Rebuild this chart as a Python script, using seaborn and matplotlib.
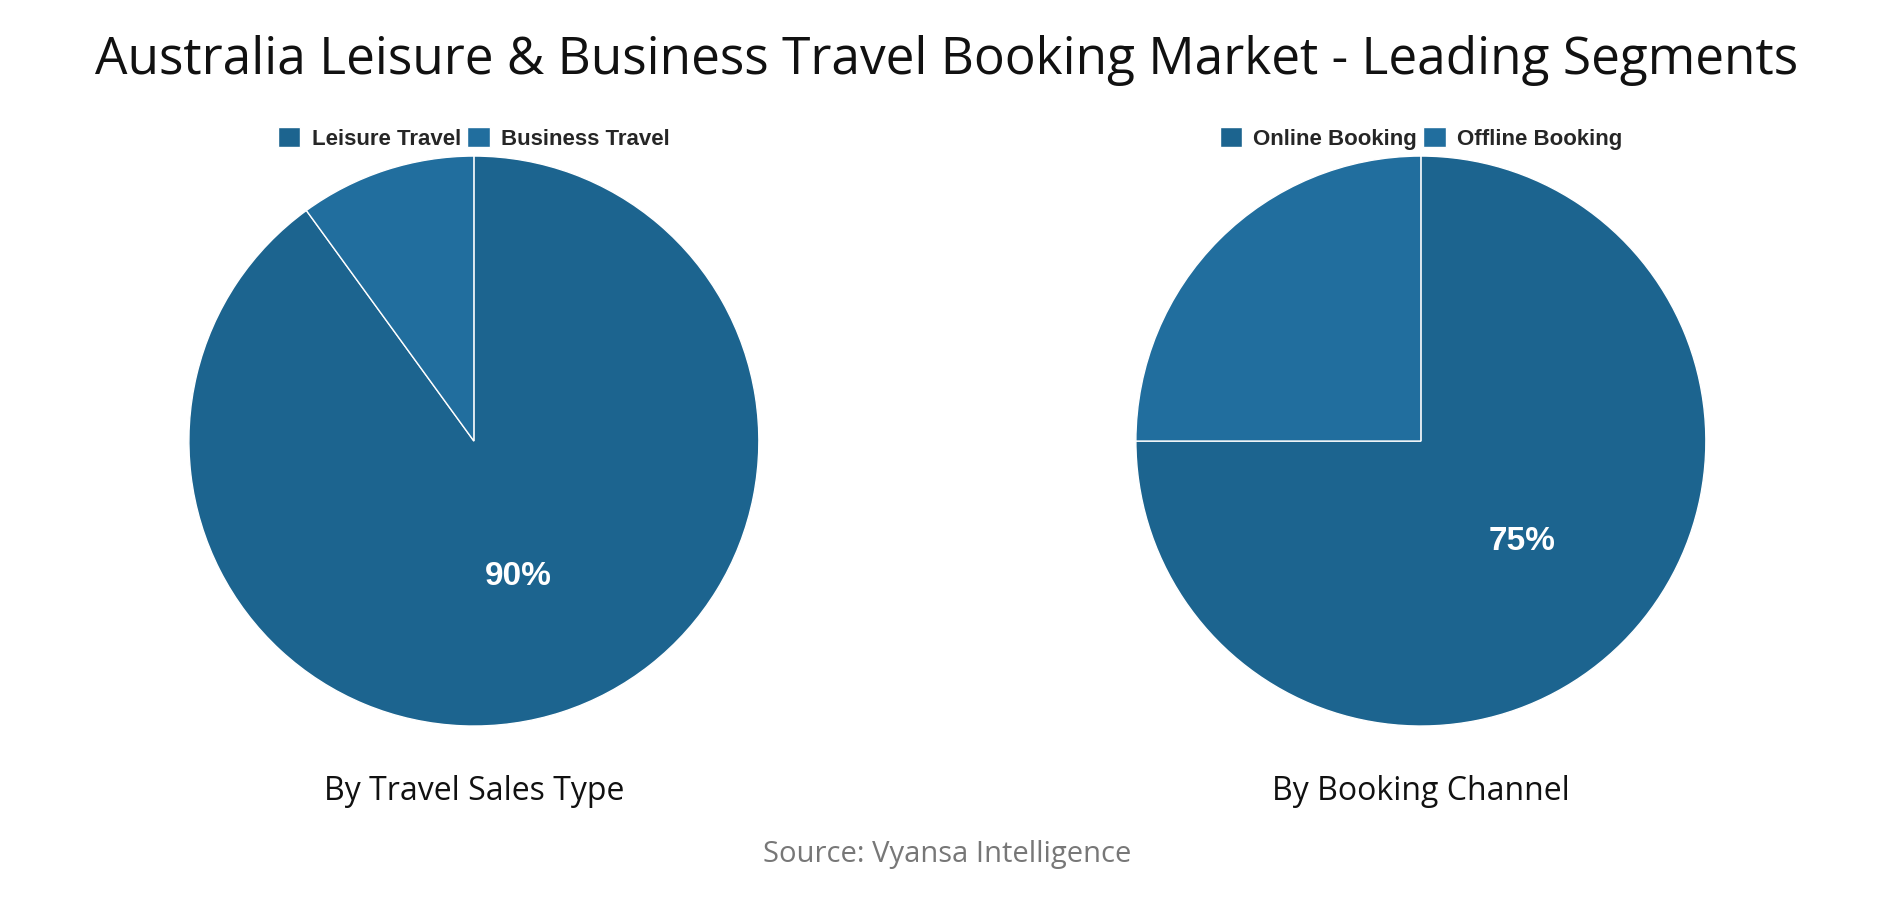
import matplotlib
matplotlib.use("Agg")
import matplotlib.pyplot as plt
import seaborn as sns

# Data
sales_labels = ['Leisure Travel', 'Business Travel']
sales_values = [90, 10]
channel_labels = ['Online Booking', 'Offline Booking']
channel_values = [75, 25]
colors = ['#1C648F', '#216E9E']

sns.set_style("white")
plt.rcParams['font.family'] = ['Liberation Sans', 'DejaVu Sans']
title_font = ['Open Sans', 'DejaVu Sans']

fig = plt.figure(figsize=(18.94, 9), dpi=100)

panels = [
    (0.0997, sales_labels, sales_values, 'By Travel Sales Type'),
    (0.5997, channel_labels, channel_values, 'By Booking Channel'),
]

for left, labels, values, subtitle in panels:
    ax = fig.add_axes([left, 0.1933, 0.301, 0.6333])
    wedges, texts, autotexts = ax.pie(
        values,
        colors=colors,
        startangle=90,
        counterclock=False,
        pctdistance=0.5,
        autopct=lambda p: f'{p:.0f}%' if p > 50 else '',
        wedgeprops={'edgecolor': 'white', 'linewidth': 1},
        textprops={'fontsize': 24, 'color': 'white', 'fontweight': 'bold'},
    )
    ax.set_xlim(-1, 1)
    ax.set_ylim(-1, 1)
    ax.set_aspect('equal')
    ax.legend(
        wedges, labels,
        loc='lower center',
        bbox_to_anchor=(0.5, 0.995),
        ncol=2,
        frameon=False,
        handlelength=1.0,
        handleheight=1.0,
        handletextpad=0.5,
        columnspacing=0.3,
        borderaxespad=0.0,
        prop={'size': 16, 'weight': 'bold'},
    )
    fig.text(left + 0.1505, 0.121, subtitle, ha='center', va='center',
             fontsize=23, family=title_font, color='#111111')

fig.text(0.5, 0.933, 'Australia Leisure & Business Travel Booking Market - Leading Segments',
         ha='center', va='center', fontsize=37, family=title_font, color='#111111')
fig.text(0.5, 0.051, 'Source: Vyansa Intelligence', ha='center', va='center',
         fontsize=21, color='#777777', family=title_font)

fig.savefig('out.png', dpi=100, facecolor='white')
